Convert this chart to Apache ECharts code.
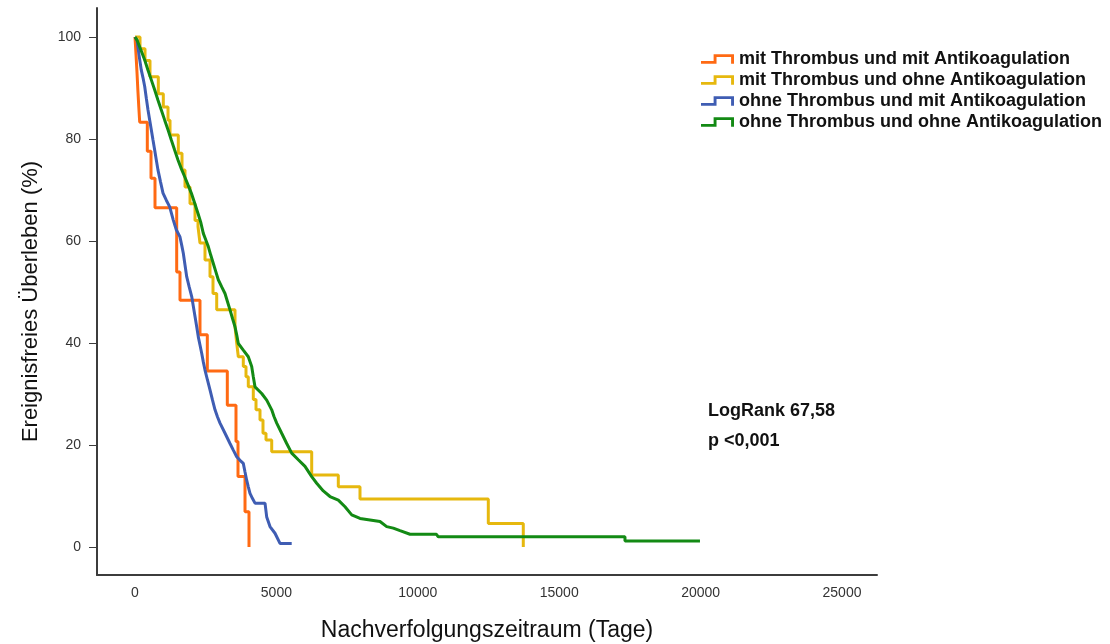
<!DOCTYPE html>
<html>
<head>
<meta charset="utf-8">
<script src="https://cdn.jsdelivr.net/npm/echarts@6/dist/echarts.min.js"></script>
<style>
  html, body { margin: 0; padding: 0; background: #fff; }
  #chart { width: 1110px; height: 644px; }
</style>
</head>
<body>
<div id="chart"></div>
<script>
// Kaplan-Meier estimates: follow-up time in days, event-free survival in %
const seriesNames = [
  'mit Thrombus und mit Antikoagulation',
  'mit Thrombus und ohne Antikoagulation',
  'ohne Thrombus und mit Antikoagulation',
  'ohne Thrombus und ohne Antikoagulation'
];

const mitMitTage = [0, 35, 70, 100, 135, 166, 435, 566, 707, 1474, 1591, 2298, 2557, 3264, 3571, 3642, 3890, 4031];
const mitMitProzent = [100, 96.6, 93.1, 89.7, 86.2, 83.3, 77.6, 72.3, 66.5, 53.9, 48.4, 41.6, 34.5, 27.8, 20.7, 13.8, 6.9, 0];

const mitOhneTage = [0, 177, 354, 530, 824, 1001, 1167, 1238, 1531, 1662, 1768, 1945, 2122, 2228, 2298, 2475, 2652, 2758, 2889, 3536, 3596, 3653, 3829, 3925, 4006, 4183, 4279, 4420, 4526, 4632, 4834, 6248, 7189, 7956, 12493, 13730];
const mitOhneProzent = [100, 97.7, 95.4, 92.2, 88.9, 86.3, 83.7, 80.8, 77.2, 73.9, 70.6, 67.3, 64.0, 62.8, 59.6, 56.3, 53.0, 49.7, 46.5, 43.2, 40.0, 37.3, 35.4, 33.4, 31.4, 28.9, 26.9, 24.9, 22.3, 21.0, 18.7, 14.1, 11.8, 9.4, 4.6, 0];

const ohneMitTage = [0, 71, 141, 223, 283, 343, 400, 460, 520, 576, 636, 697, 753, 813, 902, 990, 1107, 1227, 1354, 1460, 1591, 1651, 1708, 1768, 1828, 1916, 2005, 2062, 2122, 2182, 2238, 2298, 2358, 2415, 2475, 2564, 2652, 2741, 2829, 2918, 3006, 3183, 3359, 3476, 3596, 3713, 3829, 3890, 3949, 4006, 4066, 4155, 4243, 4597, 4657, 4773, 4950, 5127, 5541];
const ohneMitProzent = [100, 99.4, 96.5, 93.5, 92, 90.3, 88, 85.7, 83.7, 81.8, 79.8, 77.8, 75.9, 73.9, 71.6, 69.4, 68, 66.7, 64.1, 62.2, 60.8, 59.2, 57.6, 55.3, 53, 51, 49.1, 47.2, 45.2, 43.2, 41.2, 39.6, 38, 36.3, 34.7, 32.7, 30.8, 28.8, 26.9, 25.5, 24.3, 22.3, 20.3, 19, 17.7, 17, 16.4, 14.7, 13.1, 11.8, 10.5, 9.5, 8.6, 8.6, 5.9, 4.0, 2.7, 0.7, 0.7];

const ohneOhneTage = [0, 71, 205, 343, 460, 576, 697, 813, 930, 1050, 1167, 1284, 1404, 1520, 1637, 1757, 1874, 1991, 2111, 2228, 2323, 2415, 2504, 2592, 2680, 2769, 2857, 2945, 3066, 3182, 3271, 3359, 3448, 3536, 3596, 3653, 3829, 4006, 4126, 4183, 4243, 4480, 4657, 4834, 4915, 5011, 5187, 5364, 5541, 5774, 6011, 6248, 6425, 6658, 6895, 7189, 7426, 7663, 7956, 8310, 8663, 8900, 9133, 9370, 9724, 10660, 10725, 17326, 17326, 19978];
const ohneOhneProzent = [100, 99.4, 97.5, 95.5, 93.5, 91.6, 89.6, 87.6, 85.7, 83.7, 81.8, 79.8, 77.8, 75.9, 74.2, 72.6, 71.0, 69.4, 67.4, 65.4, 63.7, 61.5, 60.2, 58.9, 57.2, 55.6, 54.0, 52.4, 51.0, 49.7, 48.1, 46.5, 44.8, 43.2, 41.6, 39.9, 38.6, 37.3, 35.4, 33.4, 31.4, 30.1, 28.8, 26.9, 25.6, 24.3, 22.3, 20.3, 18.4, 17.1, 15.8, 13.8, 12.5, 11.0, 9.9, 9.2, 7.9, 6.3, 5.6, 5.3, 5.0, 4.0, 3.7, 3.2, 2.5, 2.5, 2.0, 2.0, 1.2, 1.2];

const xTicks = [0, 5000, 10000, 15000, 20000, 25000];
const yTicks = [0, 20, 40, 60, 80, 100];
const statLines = ['LogRank 67,58', 'p <0,001'];

const colors = ['#FF6A13', '#E6B80E', '#3F5DB3', '#138A14'];
const FONT = '"Liberation Sans", Arial, sans-serif';

function pairs(xs, ys) {
  return xs.map((x, i) => [x, ys[i]]);
}

const curves = [
  { data: pairs(mitMitTage, mitMitProzent), step: 'end' },
  { data: pairs(mitOhneTage, mitOhneProzent), step: 'end' },
  { data: pairs(ohneMitTage, ohneMitProzent), step: false },
  { data: pairs(ohneOhneTage, ohneOhneProzent), step: false }
];

// step-shaped legend marker (filled outline of a small staircase)
const stepIcon = 'path://M0,7 L13,7 L13,0 L34,0 L34,10 L31,10 L31,3 L16,3 L16,10 L0,10 Z';

const chart = echarts.init(document.getElementById('chart'), null, { renderer: 'canvas' });

chart.setOption({
  animation: false,
  backgroundColor: '#ffffff',
  color: colors,
  grid: { left: 97, right: 233, top: 8, bottom: 69, containLabel: false, outerBoundsMode: 'none' },
  legend: {
    data: seriesNames,
    orient: 'vertical',
    left: 696,
    top: 45,
    icon: stepIcon,
    itemWidth: 33,
    itemHeight: 10,
    itemGap: 3,
    itemStyle: { borderWidth: 0 },
    textStyle: { fontFamily: FONT, fontSize: 18, fontWeight: 'bold', color: '#111', lineHeight: 18 }
  },
  xAxis: {
    type: 'value',
    min: -1344,
    max: 26238,
    name: 'Nachverfolgungszeitraum (Tage)',
    nameLocation: 'middle',
    nameGap: 44,
    nameTextStyle: { fontFamily: FONT, fontSize: 23, color: '#111' },
    axisLine: { onZero: false, lineStyle: { color: '#3c3c3c', width: 2 } },
    axisTick: { show: false },
    axisLabel: {
      customValues: xTicks,
      formatter: (v) => String(v),
      fontFamily: FONT, fontSize: 14, color: '#333', margin: 11
    },
    splitLine: { show: false }
  },
  yAxis: {
    type: 'value',
    min: -5.49,
    max: 105.69,
    name: 'Ereignisfreies Überleben (%)',
    nameLocation: 'middle',
    nameGap: 55,
    nameTextStyle: { fontFamily: FONT, fontSize: 22, color: '#111', padding: [0, 20, 0, 0] },
    axisLine: { onZero: false, lineStyle: { color: '#3c3c3c', width: 2 } },
    axisTick: { customValues: yTicks, length: 8, lineStyle: { color: '#3c3c3c', width: 1 } },
    axisLabel: {
      customValues: yTicks,
      formatter: (v) => String(v),
      fontFamily: FONT, fontSize: 14, color: '#333', margin: 16
    },
    splitLine: { show: false }
  },
  graphic: [
    { type: 'text', left: 708, top: 402, style: { text: statLines[0], font: 'bold 18px ' + FONT, fill: '#111' } },
    { type: 'text', left: 708, top: 432, style: { text: statLines[1], font: 'bold 18px ' + FONT, fill: '#111' } }
  ],
  series: curves.map((c, i) => ({
    name: seriesNames[i],
    type: 'line',
    step: c.step,
    data: c.data,
    showSymbol: false,
    symbol: 'none',
    itemStyle: { color: colors[i] },
    lineStyle: { color: colors[i], width: 3 },
    z: 2 + i
  }))
});
</script>
</body>
</html>
